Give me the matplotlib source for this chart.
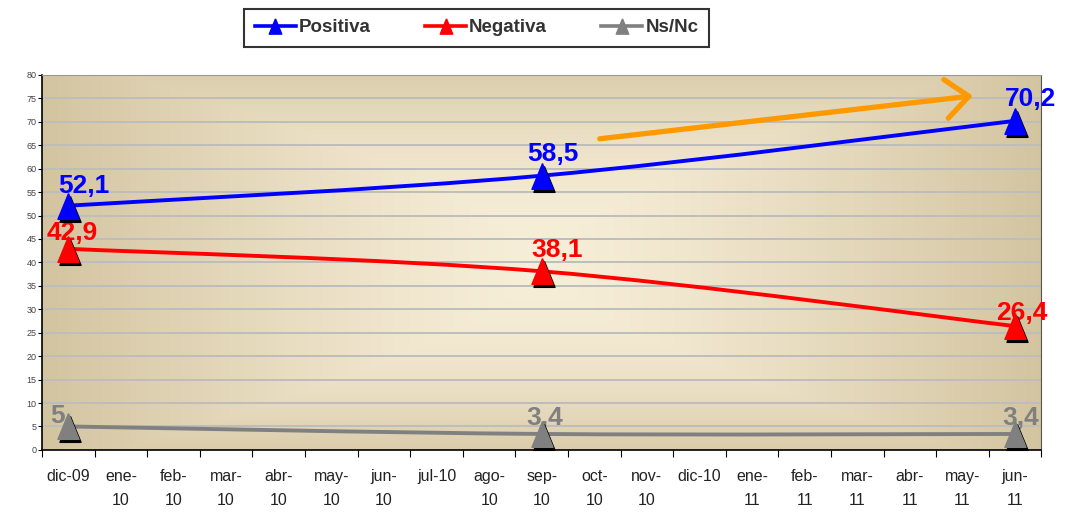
import matplotlib
matplotlib.use('Agg')
import matplotlib.pyplot as plt
import matplotlib.transforms as mtransforms
from matplotlib.path import Path
from matplotlib.patches import PathPatch
from matplotlib.lines import Line2D
import numpy as np

plt.rcParams['font.family'] = ['Liberation Sans', 'DejaVu Sans']

months = ['dic-09', 'ene-\n10', 'feb-\n10', 'mar-\n10', 'abr-\n10', 'may-\n10', 'jun-\n10',
          'jul-10', 'ago-\n10', 'sep-\n10', 'oct-\n10', 'nov-\n10', 'dic-10', 'ene-\n11',
          'feb-\n11', 'mar-\n11', 'abr-\n11', 'may-\n11', 'jun-\n11']
idx = [0, 9, 18]
positiva = [52.1, 58.5, 70.2]
negativa = [42.9, 38.1, 26.4]
nsnc = [5.0, 3.4, 3.4]
labels_pos = ['52,1', '58,5', '70,2']
labels_neg = ['42,9', '38,1', '26,4']
labels_ns = ['5', '3,4', '3,4']

BLUE = '#0000ff'
RED = '#ff0000'
GREY = '#808080'

# tall, narrow triangle like the Excel marker
TRI = [(0, 1), (-0.82, -1), (0.82, -1), (0, 1)]


def smooth_path(xs, ys):
    # Catmull-Rom style smoothing like Excel "smoothed line"
    pts = np.column_stack([xs, ys]).astype(float)
    n = len(pts)
    verts = [pts[0]]
    codes = [Path.MOVETO]
    for i in range(n - 1):
        p0 = pts[i - 1] if i > 0 else pts[i]
        p1 = pts[i]
        p2 = pts[i + 1]
        p3 = pts[i + 2] if i + 2 < n else pts[i + 1]
        c1 = p1 + (p2 - p0) / 6
        c2 = p2 - (p3 - p1) / 6
        verts += [c1, c2, p2]
        codes += [Path.CURVE4] * 3
    return Path(verts, codes)


fig = plt.figure(figsize=(10.77, 5.13), dpi=100)
ax = fig.add_axes([0.039, 0.123, 0.928, 0.731])
ax.set_xlim(-0.5, 18.5)
ax.set_ylim(0, 80)

# background gradient
u = np.linspace(0, 1, 400)
v = np.linspace(0, 1, 200)
U, V = np.meshgrid(u, v)
d = np.maximum(np.abs(2 * U - 1) ** 1.3, np.abs(2 * V - 1) ** 2 * 0.8)
d = np.clip(d, 0, 1)
light = np.array([0.97, 0.935, 0.85])
dark = np.array([0.83, 0.77, 0.63])
img = light[None, None, :] * (1 - d[..., None]) + dark[None, None, :] * d[..., None]
ax.imshow(img, extent=[0, 1, 0, 1], transform=ax.transAxes, aspect='auto', zorder=0)

ax.set_yticks(np.arange(0, 81, 5))
ax.yaxis.grid(True, color='#bdbdbd', lw=1.4, zorder=1)
ax.set_axisbelow(True)
ax.tick_params(axis='y', labelsize=6.5, labelcolor='#444444', length=3, pad=1)

ax.set_xticks(np.arange(-0.5, 19, 1))
ax.set_xticklabels([])
ax.set_xticks(np.arange(19), minor=True)
ax.set_xticklabels(months, minor=True, fontsize=11.5, color='#222222', linespacing=1.7)
ax.tick_params(axis='x', which='major', length=5, direction='out')
ax.tick_params(axis='x', which='minor', length=0, pad=14)

for s in ['left', 'bottom']:
    ax.spines[s].set_color('black')
    ax.spines[s].set_linewidth(1.2)
ax.spines['top'].set_color('#999999')
ax.spines['right'].set_color('#555555')

shadow = mtransforms.offset_copy(ax.transData, fig=fig, x=2, y=-3, units='dots')

for vals, col in [(nsnc, GREY), (negativa, RED), (positiva, BLUE)]:
    ax.add_patch(PathPatch(smooth_path(idx, vals), fill=False, edgecolor=col, lw=2.8, zorder=3))
    ax.plot(idx, vals, marker=TRI, ls='none', color='black', markersize=18.5,
            transform=shadow, zorder=5, clip_on=False)
    ax.plot(idx, vals, marker=TRI, ls='none', color=col, markersize=18.5, zorder=6, clip_on=False)

txt = dict(fontsize=19, fontweight='bold', ha='center', va='center', zorder=4)
pos_off = [(0.3, 4.1), (0.22, 4.6), (0.29, 4.7)]
neg_off = [(0.08, 3.4), (0.3, 4.5), (0.13, 2.8)]
ns_off = [(-0.2, 2.2), (0.05, 3.5), (0.1, 3.5)]
for i in range(3):
    ax.text(idx[i] + pos_off[i][0], positiva[i] + pos_off[i][1], labels_pos[i], color=BLUE, **txt)
    ax.text(idx[i] + neg_off[i][0], negativa[i] + neg_off[i][1], labels_neg[i], color=RED, **txt)
    ax.text(idx[i] + ns_off[i][0], nsnc[i] + ns_off[i][1], labels_ns[i], color=GREY, **txt)

# orange trend arrow
ax.annotate('', xy=(17.25, 75.6), xytext=(10.05, 66.3),
            arrowprops=dict(arrowstyle='->,head_length=1.65,head_width=1.4',
                            color='#ff9900', lw=3.8, capstyle='round'), zorder=7)

handles = [Line2D([], [], color=c, lw=2.6, marker=TRI, markersize=11) for c in (BLUE, RED, GREY)]
leg = fig.legend(handles, ['Positiva', 'Negativa', 'Ns/Nc'], loc='center', bbox_to_anchor=(0.4424, 0.946),
                 ncol=3, frameon=True, fancybox=False, edgecolor='black', handlelength=2.2,
                 columnspacing=2.9, handletextpad=0.15, borderpad=0.55,
                 prop=dict(size=13.5, weight='bold'))
for t in leg.get_texts():
    t.set_color('#333333')
leg.get_frame().set_linewidth(1.5)

fig.savefig('out.png', dpi=100)
